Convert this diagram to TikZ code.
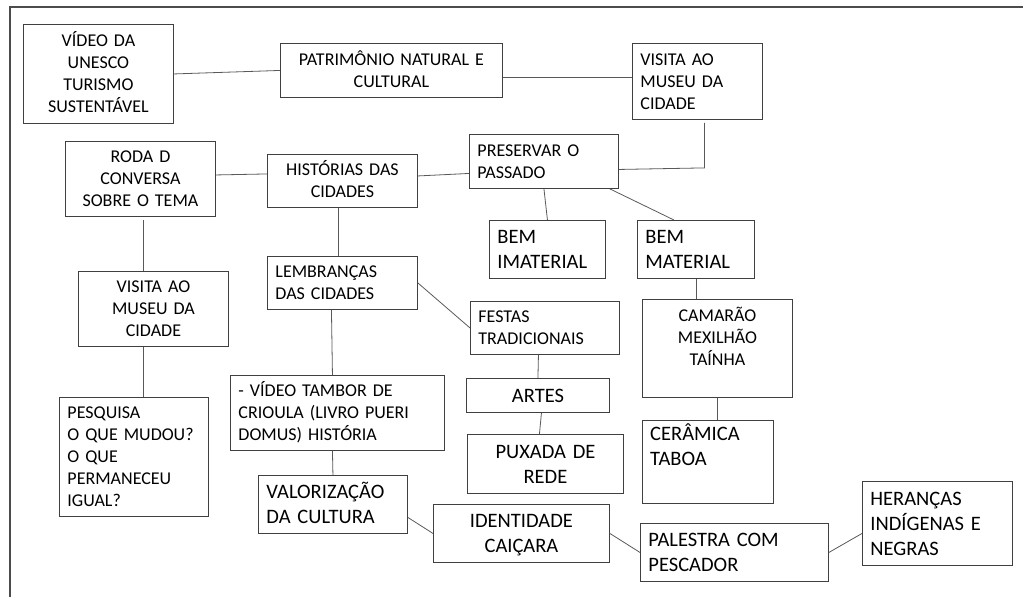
\documentclass[tikz,border=0pt]{standalone}
\usepackage{fontspec}
\setmainfont{Carlito}
\usetikzlibrary{calc}
\newcommand{\smf}{\fontsize{18}{22}\selectfont}
\newcommand{\lgf}{\fontsize{20.5}{25}\selectfont}
\newcommand{\wsp}{\hspace{6pt}}
\newcommand{\smstrut}{\rule[-5pt]{0pt}{22pt}}
\newcommand{\lgstrut}{\rule[-5.5pt]{0pt}{25pt}}
\begin{document}
\begin{tikzpicture}[x=1pt,y=-1pt,
  bx/.style={draw=black!75, line width=0.9pt, anchor=north west, inner xsep=8pt, inner ysep=0pt, font=\smf,
    execute at begin node=\smstrut, execute at end node=\smstrut},
  big/.style={font=\lgf, execute at begin node=\lgstrut, execute at end node=\lgstrut},
  lft/.style={align=left},
  ctr/.style={align=center},
  conn/.style={draw=black!65, line width=0.8pt},
  frame/.style={draw=black!70, line width=1.6pt}]
\useasboundingbox (0,0) rectangle (1023,597);
\draw[frame] (10,597) -- (10,7) -- (1023,7);

\node[bx,ctr,minimum width=150pt,minimum height=99pt,text width=134pt] (vid) at (23,24) {VÍDEO DA\\UNESCO\\TURISMO\\SUSTENTÁVEL};
\node[bx,ctr,minimum width=222pt,minimum height=54pt,text width=206pt] (pat) at (280,43) {PATRIMÔNIO\wsp NATURAL E\\CULTURAL};
\node[bx,lft,minimum width=130pt,minimum height=76pt,text width=114pt] (vis1) at (632,43) {VISITA AO\\MUSEU\wsp DA\\CIDADE};
\node[bx,ctr,minimum width=150pt,minimum height=75pt,text width=134pt] (roda) at (65,141) {RODA D\\CONVERSA\\SOBRE\wsp O TEMA};
\node[bx,ctr,minimum width=150pt,minimum height=53pt,text width=134pt] (hist) at (267,154) {HISTÓRIAS\wsp DAS\\CIDADES};
\node[bx,lft,minimum width=149pt,minimum height=54pt,text width=133pt] (pres) at (469,134) {PRESERVAR\wsp O\\PASSADO};
\node[bx,big,lft,minimum width=116pt,minimum height=58pt,text width=100pt] (imat) at (489,220) {BEM\\IMATERIAL};
\node[bx,big,lft,minimum width=117pt,minimum height=58pt,text width=101pt] (mat) at (637,220) {BEM\\MATERIAL};
\node[bx,lft,minimum width=150pt,minimum height=53pt,text width=134pt] (lemb) at (267,256) {LEMBRANÇAS\\DAS CIDADES};
\node[bx,ctr,minimum width=150pt,minimum height=75pt,text width=134pt] (vis2) at (78,271) {VISITA AO\\MUSEU\wsp DA\\CIDADE};
\node[bx,lft,minimum width=149pt,minimum height=119pt,text width=133pt] (pesq) at (59,397) {PESQUISA\\O QUE MUDOU?\\O QUE\\PERMANECEU\\IGUAL?};
\node[bx,lft,minimum width=214pt,minimum height=75pt,text width=198pt] (tamb) at (230,375) {- VÍDEO TAMBOR\wsp DE\\CRIOULA (LIVRO\wsp PUERI\\DOMUS) HISTÓRIA};
\node[bx,lft,minimum width=149pt,minimum height=53pt,text width=133pt] (fest) at (470,301) {FESTAS\\TRADICIONAIS};
\node[bx,minimum width=150pt,minimum height=98pt] (cam) at (642,299) {};
\node[inner sep=0pt,font=\smf,align=center,anchor=north,execute at begin node=\smstrut,execute at end node=\smstrut] (camt) at ([yshift=-8pt]cam.north) {CAMARÃO\\MEXILHÃO\\TAÍNHA};
\node[bx,big,ctr,minimum width=143pt,minimum height=34pt,text width=127pt] (artes) at (466,378) {ARTES};
\node[bx,big,ctr,minimum width=156pt,minimum height=59pt,text width=140pt] (pux) at (467,434) {PUXADA DE\\REDE};
\node[bx,minimum width=131pt,minimum height=83pt] (cer) at (642,420) {};
\node[inner sep=0pt,font=\lgf,align=left,anchor=north west,execute at begin node=\lgstrut,execute at end node=\lgstrut] (cert) at ([xshift=8pt,yshift=-3.5pt]cer.north west) {CERÂMICA\\TABOA};
\node[bx,big,lft,minimum width=149pt,minimum height=58pt,text width=133pt] (val) at (258,475) {VALORIZAÇÃO\\DA CULTURA};
\node[bx,big,ctr,minimum width=176pt,minimum height=58pt,text width=160pt] (ident) at (433,504) {IDENTIDADE\\CAIÇARA};
\node[bx,big,lft,minimum width=188pt,minimum height=58pt,text width=172pt] (pal) at (640,523) {PALESTRA COM\\PESCADOR};
\node[bx,big,lft,minimum width=150pt,minimum height=84pt,text width=134pt] (her) at (862,481) {HERANÇAS\\INDÍGENAS E\\NEGRAS};

\draw[conn] (vid.east) -- (pat.west);
\draw[conn] ([yshift=-7pt]pat.east) -- ([yshift=4pt]vis1.west);
\draw[conn] ([xshift=7pt,yshift=-3pt]vis1.south) -- ([xshift=7pt,yshift=-48pt]vis1.south) -- ([yshift=-8pt]pres.east);
\draw[conn] ([yshift=4pt]roda.east) -- ([yshift=7pt]hist.west);
\draw[conn] ([yshift=5pt]hist.east) -- ([yshift=-12pt]pres.west);
\draw[conn] (pres.south) -- (imat.north);
\draw[conn] ([xshift=-9pt]pres.south east) -- ([xshift=-22pt]mat.north);
\draw[conn] (mat.south) -- (mat.south |- cam.north);
\draw[conn] (cam.south) -- (cam.south |- cer.north);
\draw[conn] ([xshift=3pt,yshift=-3pt]roda.south) -- ([xshift=3pt]roda.south |- vis2.north);
\draw[conn] ([xshift=-10pt]vis2.south) -- ([xshift=-10pt]vis2.south |- pesq.north);
\draw[conn] ([xshift=-4pt]hist.south) -- ([xshift=-4pt]lemb.north);
\draw[conn] ([xshift=-11pt]lemb.south) -- ([xshift=-5pt]tamb.north);
\draw[conn] ([xshift=-5pt]tamb.south) -- (val.north);
\draw[conn] (lemb.east) -- (fest.west);
\draw[conn] ([xshift=-6.5pt]fest.south) -- (artes.north);
\draw[conn] ([xshift=3.5pt]artes.south) -- ([xshift=-6pt]pux.north);
\draw[conn] ([yshift=-13pt]val.east) -- (ident.west);
\draw[conn] (ident.east) -- (pal.west);
\draw[conn] (pal.east) -- ([yshift=-10pt]her.west);
\end{tikzpicture}
\end{document}
